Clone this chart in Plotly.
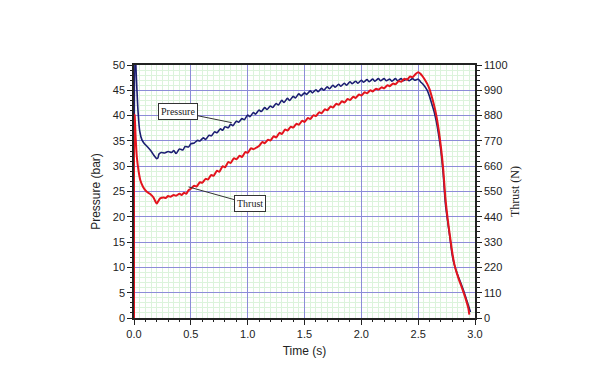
import plotly.graph_objects as go

# ---------------- data ----------------
pressure_time = [0.000, 0.008, 0.02, 0.035, 0.05, 0.07, 0.09, 0.12, 0.15, 0.18, 0.20, 0.21, 0.22, 0.24,
                 0.27, 0.30, 0.33, 0.35, 0.37, 0.40, 0.43, 0.45, 0.48, 0.50, 0.53, 0.56, 0.58, 0.61, 0.63,
                 0.66, 0.68, 0.71, 0.73, 0.76, 0.78, 0.80, 0.83, 0.85, 0.87, 0.90, 0.92, 0.95, 0.97, 1.00,
                 1.02, 1.05, 1.07, 1.10, 1.12, 1.15, 1.17, 1.20, 1.22, 1.25, 1.27, 1.30, 1.32, 1.35, 1.37,
                 1.40, 1.42, 1.45, 1.47, 1.50, 1.52, 1.55, 1.57, 1.60, 1.62, 1.65, 1.67, 1.70, 1.72, 1.75,
                 1.77, 1.80, 1.82, 1.85, 1.87, 1.90, 1.92, 1.95, 1.97, 2.00, 2.02, 2.05, 2.07, 2.10, 2.12,
                 2.15, 2.17, 2.20, 2.22, 2.25, 2.27, 2.30, 2.32, 2.35, 2.37, 2.40, 2.42, 2.45, 2.47, 2.50,
                 2.52, 2.55, 2.58, 2.60, 2.62, 2.64, 2.66, 2.68, 2.70, 2.72, 2.74, 2.76, 2.78, 2.80, 2.82,
                 2.84, 2.86, 2.88, 2.90, 2.92, 2.94, 2.96]
pressure_bar = [0, 54, 48, 41, 37, 35.2, 34.5, 33.8, 33.0, 32.0, 31.5, 31.6, 32.4, 32.7,
                32.6, 32.9, 32.7, 33.1, 32.5, 33.4, 33.2, 33.9, 33.8, 34.4, 34.6, 35.1, 35.0, 35.6, 35.3,
                36.1, 36.0, 36.8, 36.6, 37.4, 37.1, 37.8, 37.6, 38.3, 38.0, 38.9, 38.7, 39.4, 39.2, 40.1,
                39.8, 40.6, 40.3, 41.1, 40.8, 41.6, 41.2, 41.9, 41.6, 42.4, 42.1, 43.0, 42.6, 43.4, 43.0,
                43.8, 43.5, 44.3, 43.9, 44.5, 44.2, 44.9, 44.5, 45.1, 44.7, 45.4, 45.0, 45.7, 45.3, 46.0,
                45.6, 46.2, 45.8, 46.4, 46.0, 46.7, 46.3, 46.8, 46.4, 47.0, 46.6, 47.1, 46.7, 47.2, 46.8,
                47.3, 46.9, 47.3, 46.9, 47.2, 46.8, 47.3, 46.9, 47.3, 46.9, 47.2, 46.9, 47.3, 47.0, 47.2,
                46.7, 46.0, 45.0, 43.8, 42.3, 40.8, 38.8, 36.2, 33.0, 28.5, 22.5, 19.0, 15.8, 12.4, 10.4,
                9.0, 7.8, 6.6, 5.4, 4.0, 2.6, 1.2]

thrust_time = [0.000, 0.004, 0.006, 0.015, 0.025, 0.04, 0.055, 0.08, 0.11, 0.14, 0.17, 0.19, 0.20, 0.21,
               0.23, 0.26, 0.28, 0.30, 0.32, 0.35, 0.37, 0.40, 0.42, 0.44, 0.46, 0.48, 0.50, 0.53, 0.55,
               0.58, 0.60, 0.63, 0.65, 0.68, 0.70, 0.73, 0.75, 0.78, 0.80, 0.83, 0.85, 0.88, 0.90, 0.93,
               0.95, 0.98, 1.00, 1.03, 1.05, 1.08, 1.10, 1.13, 1.15, 1.18, 1.20, 1.23, 1.25, 1.28, 1.30,
               1.33, 1.35, 1.38, 1.40, 1.43, 1.45, 1.48, 1.50, 1.53, 1.55, 1.58, 1.60, 1.63, 1.65, 1.68,
               1.70, 1.73, 1.75, 1.78, 1.80, 1.83, 1.85, 1.88, 1.90, 1.93, 1.95, 1.98, 2.00, 2.03, 2.05,
               2.08, 2.10, 2.13, 2.15, 2.18, 2.20, 2.23, 2.25, 2.28, 2.30, 2.33, 2.35, 2.38, 2.40, 2.43,
               2.45, 2.48, 2.50, 2.52, 2.54, 2.56, 2.58, 2.60, 2.62, 2.64, 2.66, 2.68, 2.70, 2.72, 2.74,
               2.76, 2.78, 2.80, 2.82, 2.84, 2.86, 2.88, 2.90, 2.92, 2.94, 2.95]
thrust_n = [0, 885, 880, 780, 700, 640, 600, 570, 550, 540, 525, 505, 498, 505,
            520, 524, 522, 530, 527, 535, 532, 540, 535, 545, 540, 556, 562, 575, 572,
            590, 588, 605, 602, 622, 618, 640, 636, 660, 655, 678, 674, 695, 690, 705,
            700, 722, 718, 738, 734, 742, 748, 765, 760, 775, 772, 790, 785, 805, 800,
            820, 815, 832, 828, 845, 840, 858, 852, 870, 865, 882, 878, 895, 890, 908,
            903, 920, 915, 932, 927, 942, 937, 952, 948, 962, 957, 972, 967, 982, 977,
            990, 985, 997, 993, 1003, 999, 1012, 1008, 1020, 1016, 1030, 1027, 1040, 1036, 1050,
            1047, 1062, 1068, 1062, 1050, 1035, 1018, 995, 962, 925, 880, 820, 745, 650, 520,
            430, 355, 285, 230, 195, 165, 138, 110, 80, 45, 15]

x_ticks = [0.0, 0.5, 1.0, 1.5, 2.0, 2.5, 3.0]
x_tick_labels = ["0.0", "0.5", "1.0", "1.5", "2.0", "2.5", "3.0"]
pressure_ticks = [0, 5, 10, 15, 20, 25, 30, 35, 40, 45, 50]
thrust_ticks = [0, 110, 220, 330, 440, 550, 660, 770, 880, 990, 1100]

# ---------------- figure ----------------
fig = go.Figure()
fig.add_trace(go.Scatter(x=pressure_time, y=pressure_bar, mode="lines", name="Pressure",
                         line=dict(color="#1c1f72", width=1.6, shape="spline", smoothing=0.7),
                         yaxis="y", xaxis="x"))
fig.add_trace(go.Scatter(x=thrust_time, y=thrust_n, mode="lines", name="Thrust",
                         line=dict(color="#e3141d", width=2, shape="spline", smoothing=0.7),
                         yaxis="y2", xaxis="x"))
# invisible trace to activate tick-only overlay axes
fig.add_trace(go.Scatter(x=[0, 3], y=[0, 50], mode="markers", marker=dict(opacity=0),
                         xaxis="x2", yaxis="y3", hoverinfo="skip", showlegend=False))

tickfont = dict(family="Liberation Sans, Arial, sans-serif", size=11, color="#222")

fig.update_layout(
    width=600, height=375,
    margin=dict(l=126, r=133, t=57, b=65),
    paper_bgcolor="white", plot_bgcolor="white",
    showlegend=False,
    xaxis=dict(range=[0, 3], tickvals=x_ticks, ticktext=x_tick_labels,
               showgrid=True, gridcolor="#8c8cd8", gridwidth=1.3,
               minor=dict(dtick=0.05, showgrid=True, gridcolor="#dcf3dc", gridwidth=1, ticks=""),
               ticks="outside", ticklen=5, tickwidth=1.2, tickcolor="#222",
               showline=True, linecolor="#222", linewidth=1.5, mirror=True,
               zeroline=False, tickfont=tickfont, automargin=False,
               title=dict(text="Time (s)", font=dict(family="Liberation Sans, Arial", size=12, color="#222"),
                          standoff=8)),
    xaxis2=dict(range=[0, 3], overlaying="x", side="bottom", anchor="y",
                tickvals=x_ticks, showticklabels=False, ticks="outside", ticklen=5, tickwidth=1.2,
                tickcolor="#222", showgrid=False, zeroline=False,
                minor=dict(dtick=0.1, ticks="outside", ticklen=3, tickcolor="#222", showgrid=False)),
    yaxis=dict(range=[0, 50], tickvals=pressure_ticks, showgrid=True, gridcolor="#8c8cd8", gridwidth=1.3,
               minor=dict(dtick=1, showgrid=True, gridcolor="#dcf3dc", gridwidth=1, ticks=""),
               ticks="outside", ticklen=5, tickwidth=1.2, tickcolor="#222",
               showline=True, linecolor="#222", linewidth=1.5, mirror=True,
               zeroline=False, tickfont=tickfont, automargin=False,
               title=dict(text="Pressure (bar)", font=dict(family="Liberation Sans, Arial", size=12, color="#222"),
                          standoff=10)),
    yaxis3=dict(range=[0, 50], overlaying="y", side="left", anchor="x",
                tickvals=pressure_ticks, showticklabels=False, ticks="outside", ticklen=5, tickwidth=1.2,
                tickcolor="#222", showgrid=False, zeroline=False,
                minor=dict(dtick=1, ticks="outside", ticklen=3, tickcolor="#222", showgrid=False)),
    yaxis2=dict(range=[0, 1100], overlaying="y", side="right", anchor="x",
                tickvals=thrust_ticks, showgrid=False, zeroline=False,
                ticks="outside", ticklen=5, tickwidth=1.2, tickcolor="#222",
                minor=dict(dtick=22, ticks="outside", ticklen=3, tickcolor="#222", showgrid=False),
                showline=True, linecolor="#222", linewidth=1.5, tickfont=tickfont, automargin=False,
                title=dict(text="Thrust (N)", font=dict(family="Liberation Serif, Times New Roman, serif",
                                                        size=12, color="#222"), standoff=4)),
)

fig.add_annotation(x=0.86, y=38.6, xref="x", yref="y", text="Pressure",
                   showarrow=True, arrowhead=0, arrowwidth=1, arrowcolor="#333",
                   ax=-54, ay=-11, font=dict(family="Liberation Serif, Times New Roman, serif", size=10, color="#222"),
                   bgcolor="white", bordercolor="#333", borderwidth=1, borderpad=2)
fig.add_annotation(x=0.48, y=570, xref="x", yref="y2", text="Thrust",
                   showarrow=True, arrowhead=0, arrowwidth=1, arrowcolor="#333",
                   ax=61, ay=17, font=dict(family="Liberation Serif, Times New Roman, serif", size=10, color="#222"),
                   bgcolor="white", bordercolor="#333", borderwidth=1, borderpad=2)

fig.write_html("out.html")
